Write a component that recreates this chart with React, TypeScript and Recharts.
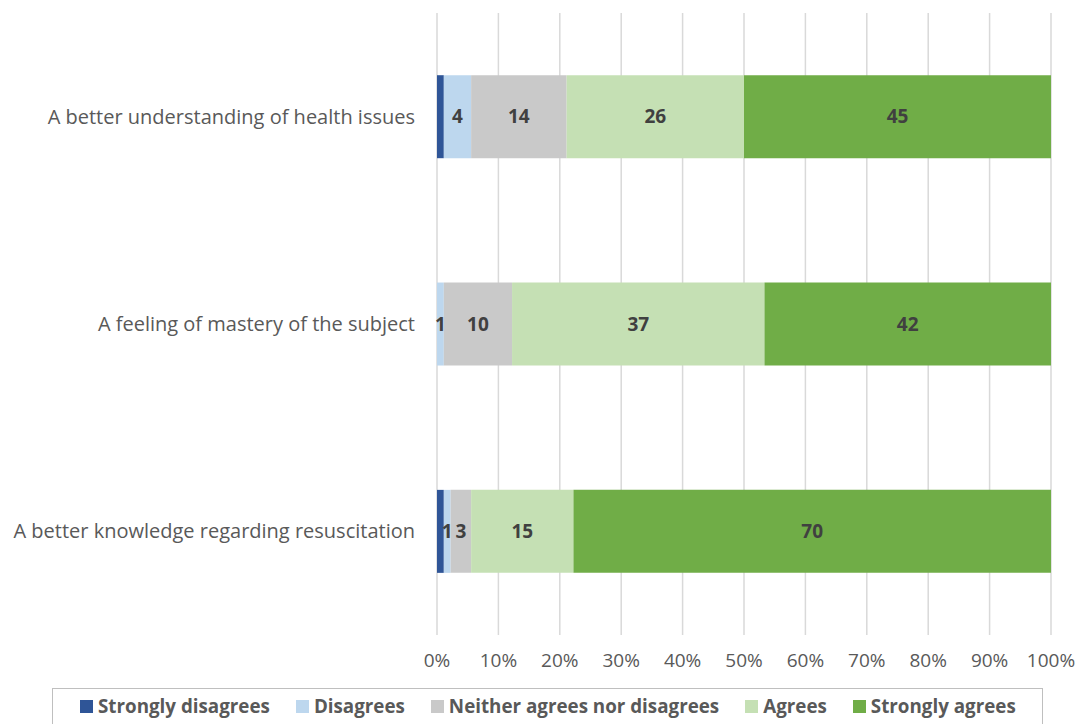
import { BarChart, Bar, XAxis, YAxis, CartesianGrid, Legend, LabelList } from "recharts";

const categories = [
  "A better understanding of health issues",
  "A feeling of mastery of the subject",
  "A better knowledge regarding resuscitation",
];
const stronglyDisagrees = [1, 0, 1];
const disagrees = [4, 1, 1];
const neither = [14, 10, 3];
const agrees = [26, 37, 15];
const stronglyAgrees = [45, 42, 70];
const xTicks = [0, 0.1, 0.2, 0.3, 0.4, 0.5, 0.6, 0.7, 0.8, 0.9, 1];

const series = [
  { key: "sd", name: "Strongly disagrees", color: "#2F5597", label: false },
  { key: "d", name: "Disagrees", color: "#BDD7EE", label: true },
  { key: "n", name: "Neither agrees nor disagrees", color: "#C9C9C9", label: true },
  { key: "a", name: "Agrees", color: "#C5E0B4", label: true },
  { key: "sa", name: "Strongly agrees", color: "#70AD47", label: true },
];

const data = categories.map((name, i) => ({
  name,
  sd: stronglyDisagrees[i],
  d: disagrees[i],
  n: neither[i],
  a: agrees[i],
  sa: stronglyAgrees[i],
}));

const font = "'Open Sans', Lato, sans-serif";

function LegendBox() {
  return (
    <div
      style={{
        display: "flex",
        alignItems: "center",
        gap: 26,
        border: "1.5px solid #bfbfbf",
        height: 44,
        paddingLeft: 27,
        boxSizing: "border-box",
        fontFamily: font,
        fontWeight: 700,
        fontSize: 18.8,
        color: "#595959",
      }}
    >
      {series.map((s) => (
        <div key={s.key} style={{ display: "flex", alignItems: "center", marginTop: -8 }}>
          <span style={{ width: 13, height: 13, background: s.color, marginRight: 5, display: "inline-block" }} />
          {s.name}
        </div>
      ))}
    </div>
  );
}

export default function App() {
  return (
    <div style={{ position: "absolute", left: 0, top: 0, background: "#fff" }}>
      <BarChart
        width={1078}
        height={724}
        data={data}
        layout="vertical"
        stackOffset="expand"
        barCategoryGap="30%"
        margin={{ top: 13, right: 27, left: 0, bottom: 49 }}
      >
        <CartesianGrid horizontal={false} stroke="#d9d9d9" strokeWidth={1.5} />
        <XAxis
          type="number"
          domain={[0, 1]}
          ticks={xTicks}
          tickFormatter={(v: number) => `${Math.round(v * 100)}%`}
          axisLine={false}
          tickLine={false}
          tickSize={6}
          tickMargin={13}
          height={40}
          tick={{ fill: "#595959", fontSize: 19, fontFamily: font }}
        />
        <YAxis
          type="category"
          dataKey="name"
          width={437}
          axisLine={false}
          tickLine={false}
          tickSize={0}
          tickMargin={22}
          tick={{ fill: "#595959", fontSize: 20, fontFamily: font }}
        />
        <Legend
          layout="horizontal"
          verticalAlign="middle"
          wrapperStyle={{ top: 688, left: 52, width: 991, height: 44 }}
          content={<LegendBox />}
        />
        {series.map((s) => (
          <Bar key={s.key} dataKey={s.key} name={s.name} stackId="x" fill={s.color} isAnimationActive={false}>
            {s.label && (
              <LabelList
                dataKey={s.key}
                position="center"
                formatter={(v: any) => (v ? v : "")}
                style={{ fill: "#404040", fontWeight: 700, fontSize: 19, fontFamily: font }}
              />
            )}
          </Bar>
        ))}
      </BarChart>
    </div>
  );
}
